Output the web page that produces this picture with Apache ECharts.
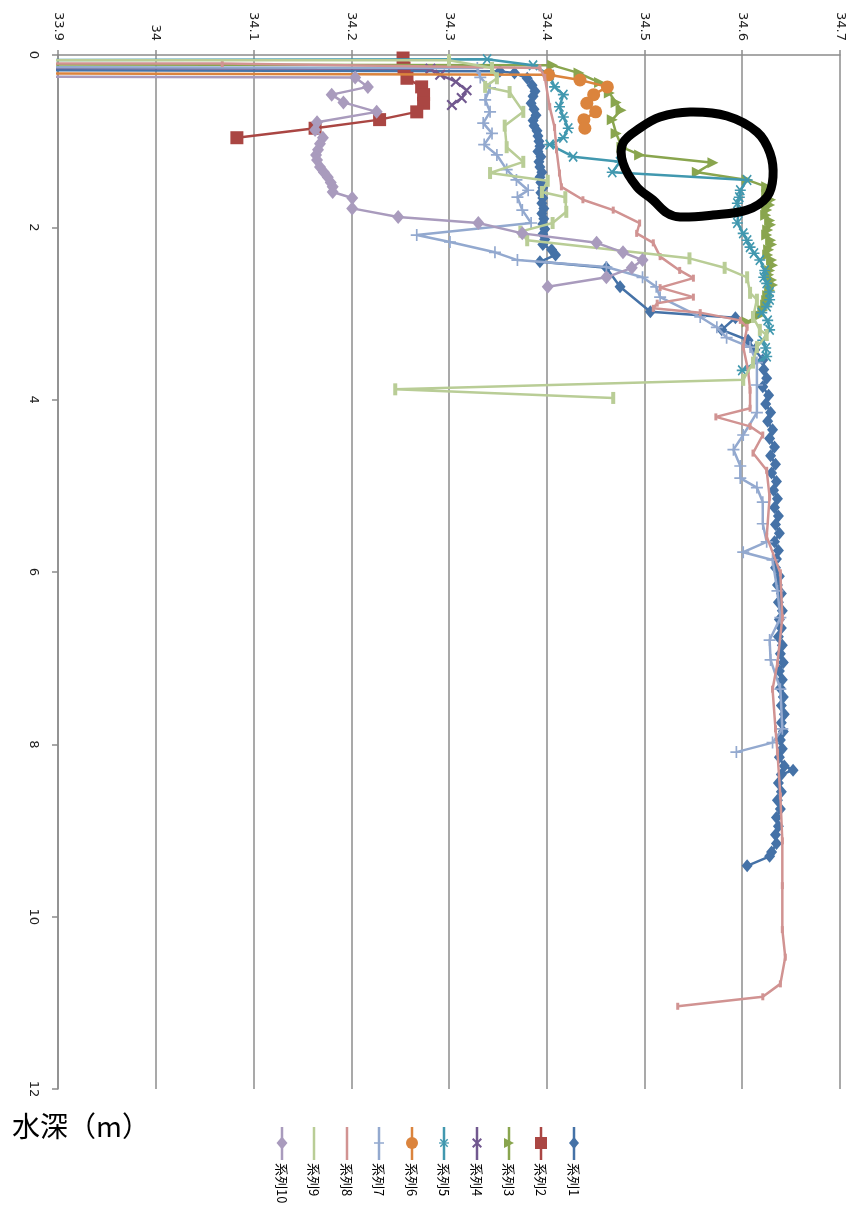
<!DOCTYPE html>
<html><head><meta charset="utf-8">
<script src="https://cdn.jsdelivr.net/npm/echarts@6/dist/echarts.min.js"></script>
<style>html,body{margin:0;padding:0;background:#fff}#c{width:852px;height:1216px}</style>
</head><body><div id="c"></div>
<script>
const salinityTicks = ['33.9','34','34.1','34.2','34.3','34.4','34.5','34.6','34.7'];
const depthTicks = ['0','2','4','6','8','10','12'];
const seriesNames = ['系列1','系列2','系列3','系列4','系列5','系列6','系列7','系列8','系列9','系列10'];
const depthTitle = '水深（m）';

// [salinity, depth]
const s1 = [[33.0,0.15],[34.352,0.19],[34.367,0.21],[34.380,0.27],[34.385,0.35],[34.388,0.42],[34.386,0.48],[34.384,0.56],[34.387,0.63],[34.389,0.70],[34.386,0.76],[34.387,0.82],[34.390,0.88],[34.391,0.94],[34.392,1.00],[34.393,1.06],[34.391,1.12],[34.394,1.18],[34.392,1.24],[34.393,1.30],[34.395,1.36],[34.393,1.42],[34.394,1.48],[34.396,1.54],[34.394,1.60],[34.396,1.66],[34.395,1.72],[34.397,1.78],[34.395,1.84],[34.397,1.90],[34.396,1.96],[34.398,2.02],[34.396,2.08],[34.398,2.14],[34.396,2.20],[34.405,2.26],[34.409,2.32],[34.393,2.40],[34.461,2.47],[34.475,2.69],[34.506,2.98],[34.593,3.05],[34.579,3.19],[34.606,3.31],[34.613,3.42],[34.621,3.54],
[34.622,3.65],[34.625,3.75],[34.621,3.85],[34.627,3.95],[34.624,4.05],[34.629,4.15],[34.626,4.25],[34.631,4.35],[34.628,4.45],[34.633,4.55],[34.629,4.65],[34.634,4.75],[34.630,4.85],[34.635,4.95],[34.632,5.05],[34.636,5.15],[34.633,5.25],[34.637,5.35],[34.634,5.45],[34.638,5.55],[34.633,5.65],[34.637,5.75],[34.635,5.85],[34.634,5.95],[34.638,6.05],[34.636,6.15],[34.640,6.25],[34.637,6.35],[34.641,6.45],[34.638,6.55],[34.640,6.65],[34.637,6.75],[34.641,6.85],[34.639,6.95],[34.642,7.05],[34.638,7.15],[34.641,7.25],[34.639,7.35],[34.642,7.45],[34.640,7.55],[34.643,7.65],[34.640,7.75],[34.642,7.85],[34.639,7.95],[34.641,8.05],[34.638,8.15],[34.643,8.25],[34.652,8.30],[34.640,8.35],[34.637,8.45],[34.640,8.55],[34.636,8.65],[34.639,8.75],[34.635,8.85],[34.637,8.95],[34.634,9.05],[34.635,9.15],[34.630,9.25],[34.628,9.30],[34.605,9.41]];
const s2 = [[34.253,0.035],[34.254,0.15],[34.257,0.27],[34.272,0.37],[34.274,0.46],[34.274,0.56],[34.267,0.66],[34.229,0.75],[34.163,0.85],[34.083,0.96]];
const s3 = [[33.0,0.09],[34.406,0.12],[34.433,0.21],[34.454,0.32],[34.464,0.44],[34.471,0.55],[34.476,0.64],[34.467,0.75],[34.471,0.91],[34.477,1.07],[34.495,1.16],[34.570,1.25],[34.554,1.36],[34.605,1.45],[34.625,1.53],[34.627,1.58],[34.625,1.62],[34.629,1.68],[34.628,1.74],[34.625,1.80],[34.624,1.86],[34.628,1.92],[34.629,1.97],[34.626,2.03],[34.625,2.09],[34.629,2.15],[34.630,2.20],[34.627,2.26],[34.626,2.32],[34.630,2.38],[34.631,2.44],[34.628,2.50],[34.627,2.55],[34.630,2.61],[34.631,2.67],[34.628,2.73],[34.626,2.79],[34.625,2.85],[34.624,2.90],[34.621,2.96],[34.618,3.02],[34.605,3.10]];
const s4 = [[33.0,0.13],[34.281,0.16],[34.291,0.23],[34.307,0.31],[34.318,0.41],[34.313,0.50],[34.303,0.58]];
const s5 = [[33.0,0.07],[34.339,0.05],[34.386,0.12],[34.403,0.23],[34.408,0.37],[34.417,0.46],[34.413,0.60],[34.417,0.72],[34.422,0.85],[34.417,0.96],[34.403,1.04],[34.427,1.18],[34.475,1.24],[34.467,1.36],[34.605,1.45],[34.598,1.57],[34.597,1.65],[34.595,1.72],[34.596,1.83],[34.595,1.95],[34.601,2.07],[34.605,2.15],[34.608,2.23],[34.612,2.30],[34.618,2.38],[34.623,2.50],[34.622,2.58],[34.625,2.65],[34.628,2.75],[34.628,2.84],[34.625,2.92],[34.620,2.99],[34.626,3.08],[34.628,3.19],[34.621,3.31],[34.624,3.40],[34.625,3.50],[34.600,3.66]];
const s6 = [[33.0,0.19],[34.402,0.23],[34.434,0.29],[34.462,0.37],[34.448,0.46],[34.441,0.56],[34.450,0.66],[34.438,0.75],[34.439,0.85]];
const s7 = [[33.0,0.13],[34.329,0.15],[34.332,0.26],[34.342,0.38],[34.337,0.52],[34.342,0.66],[34.335,0.79],[34.344,0.91],[34.336,1.04],[34.349,1.16],[34.359,1.33],[34.369,1.45],[34.381,1.57],[34.370,1.65],[34.375,1.80],[34.384,1.95],[34.267,2.09],[34.301,2.17],[34.347,2.29],[34.370,2.38],[34.461,2.46],[34.498,2.58],[34.512,2.69],[34.516,2.81],[34.557,3.04],[34.574,3.16],[34.584,3.28],[34.608,3.39],[34.615,3.57],[34.615,3.83],[34.615,4.15],[34.601,4.41],[34.591,4.58],[34.598,4.77],[34.598,4.91],[34.615,5.02],[34.621,5.19],[34.621,5.44],[34.625,5.65],[34.601,5.77],[34.631,5.86],[34.636,6.22],[34.639,6.53],[34.628,6.79],[34.629,7.02],[34.639,7.36],[34.641,7.82],[34.631,7.98],[34.594,8.09]];
const s8 = [[33.0,0.10],[34.068,0.10],[34.393,0.15],[34.398,0.26],[34.403,0.60],[34.408,0.84],[34.410,1.10],[34.413,1.37],[34.415,1.53],[34.437,1.68],[34.468,1.80],[34.495,1.95],[34.492,2.07],[34.509,2.18],[34.516,2.34],[34.536,2.50],[34.550,2.59],[34.516,2.70],[34.550,2.81],[34.513,2.88],[34.509,2.94],[34.557,2.99],[34.598,3.08],[34.605,3.16],[34.601,3.39],[34.606,3.66],[34.608,3.89],[34.608,4.10],[34.573,4.20],[34.608,4.31],[34.621,4.41],[34.611,4.62],[34.625,4.82],[34.628,5.13],[34.625,5.59],[34.639,6.01],[34.641,6.53],[34.636,7.06],[34.631,7.36],[34.634,7.82],[34.636,8.09],[34.639,8.60],[34.641,9.12],[34.641,9.64],[34.641,10.15],[34.644,10.47],[34.639,10.78],[34.621,10.93],[34.534,11.04]];
const s9 = [[33.0,0.06],[34.300,0.06],[34.344,0.15],[34.349,0.27],[34.337,0.37],[34.362,0.43],[34.376,0.66],[34.357,0.82],[34.359,1.07],[34.376,1.24],[34.342,1.37],[34.401,1.46],[34.395,1.59],[34.419,1.65],[34.420,1.82],[34.406,1.95],[34.373,2.05],[34.380,2.15],[34.546,2.36],[34.582,2.47],[34.605,2.58],[34.608,2.76],[34.615,2.84],[34.611,3.04],[34.618,3.19],[34.625,3.25],[34.615,3.39],[34.611,3.57],[34.601,3.77],[34.245,3.88],[34.468,3.98]];
const s10 = [[33.0,0.23],[34.204,0.26],[34.217,0.37],[34.180,0.46],[34.192,0.55],[34.226,0.66],[34.165,0.78],[34.163,0.87],[34.171,0.96],[34.168,1.03],[34.166,1.10],[34.164,1.16],[34.165,1.22],[34.168,1.30],[34.172,1.36],[34.176,1.42],[34.179,1.48],[34.181,1.53],[34.181,1.59],[34.201,1.66],[34.201,1.78],[34.248,1.88],[34.330,1.95],[34.375,2.07],[34.451,2.18],[34.478,2.29],[34.498,2.38],[34.487,2.47],[34.461,2.58],[34.401,2.69]];
const seriesData = [s1,s2,s3,s4,s5,s6,s7,s8,s9,s10];

const colors = ['#4572A7','#AA4643','#89A54E','#71588F','#4198AF','#DB843D','#93A9CF','#D19392','#B9CD96','#A99BBD'];
const P_X = 'M0,1.4L1.4,0L5,3.6L8.6,0L10,1.4L6.4,5L10,8.6L8.6,10L5,6.4L1.4,10L0,8.6L3.6,5Z';
const P_PLUS = 'M4.3,0H5.7V4.3H10V5.7H5.7V10H4.3V5.7H0V4.3H4.3Z';
const P_STAR = 'M0,4.4H10V5.6H0Z M0.8,1.8L1.8,0.8L9.2,8.2L8.2,9.2Z M8.2,0.8L9.2,1.8L1.8,9.2L0.8,8.2Z';

// legend marker shapes as polygons in a 10x10 box
const G_DIAMOND = [[[5,0],[10,5],[5,10],[0,5]]];
const G_RECT = [[[0,0],[10,0],[10,10],[0,10]]];
const G_TRI = [[[0,0],[10,5],[0,10]]];
const G_X = [[[0,1.4],[1.4,0],[5,3.6],[8.6,0],[10,1.4],[6.4,5],[10,8.6],[8.6,10],[5,6.4],[1.4,10],[0,8.6],[3.6,5]]];
const G_PLUS = [[[4.3,0],[5.7,0],[5.7,4.3],[10,4.3],[10,5.7],[5.7,5.7],[5.7,10],[4.3,10],[4.3,5.7],[0,5.7],[0,4.3],[4.3,4.3]]];
const G_STAR = [[[0,4.4],[10,4.4],[10,5.6],[0,5.6]],[[0.8,1.8],[1.8,0.8],[9.2,8.2],[8.2,9.2]],[[8.2,0.8],[9.2,1.8],[1.8,9.2],[0.8,8.2]]];

const symbols = [
  {symbol:'diamond', size:[11,13], rot:0, g:G_DIAMOND, ls:[10,12]},
  {symbol:'rect', size:13, rot:0, g:G_RECT, ls:[12,12]},
  {symbol:'triangle', size:[11,11], rot:-90, g:G_TRI, ls:[10,10]},
  {symbol:'path://'+P_X, size:11, rot:0, g:G_X, ls:[10,10]},
  {symbol:'path://'+P_STAR, size:11, rot:0, g:G_STAR, ls:[10,10]},
  {symbol:'circle', size:13, rot:0, g:null, ls:[12,12]},
  {symbol:'path://'+P_PLUS, size:12, rot:0, g:G_PLUS, ls:[10,10]},
  {symbol:'rect', size:[3,7], rot:0, g:null, ls:null},
  {symbol:'rect', size:[4,12], rot:0, g:null, ls:null},
  {symbol:'diamond', size:[12,14], rot:0, g:G_DIAMOND, ls:[11,13]}
];

const chart = echarts.init(document.getElementById('c'), null, {renderer:'canvas'});

const series = seriesData.map((d,i)=>({
  name: seriesNames[i], type:'line', data:d, clip:true,
  symbol: symbols[i].symbol, symbolSize: symbols[i].size, symbolRotate: symbols[i].rot,
  showAllSymbol:true,
  itemStyle:{color:colors[i]},
  lineStyle:{color:colors[i], width:2.5},
  emphasis:{disabled:true},
  z: 2 + i
}));

// legend drawn vertically (rotated text)
const legendX = [574,541,509,477,444,412,379,347,314,282];
const graphics = [];
seriesNames.forEach((n,i)=>{
  const x = legendX[i];
  graphics.push({type:'line', shape:{x1:x,y1:1127,x2:x,y2:1160}, style:{stroke:colors[i], lineWidth:2.5}});
  const s = symbols[i];
  if (s.symbol==='circle') {
    graphics.push({type:'circle', shape:{cx:x, cy:1143, r:6}, style:{fill:colors[i]}});
  } else if (s.g) {
    const w = s.ls[0], h = s.ls[1];
    s.g.forEach(poly=>{
      graphics.push({type:'polygon', shape:{points: poly.map(p=>[x - w/2 + p[0]*w/10, 1143 - h/2 + p[1]*h/10])}, style:{fill:colors[i]}});
    });
  }
  graphics.push({type:'text', x:x, y:1163, rotation:-Math.PI/2,
    style:{text:n, x:0, y:0, align:'left', verticalAlign:'middle', fill:'#000', font:'13px "Noto Sans CJK JP", sans-serif'}});
});
graphics.push({type:'text', left:12, top:1112, style:{text:depthTitle, fill:'#000', font:'28px "Noto Sans CJK JP", sans-serif'}});
// hand-drawn annotation loop
graphics.push({type:'polygon', z:100, shape:{smooth:0.35, points:[[623,143],[640,128],[660,117],[690,112],[727,116],[757,132],[770,153],[773,177],[767,197],[747,210],[713,215],[680,217],[667,213],[653,200],[637,187],[623,163]]},
  style:{fill:'none', stroke:'#000', lineWidth:9}});

chart.setOption({
  animation:false,
  backgroundColor:'#fff',
  grid:{left:58, top:55, right:12, bottom:127, containLabel:false},
  xAxis:{type:'value', position:'top', min:33.9, max:34.7, interval:0.1,
    axisLine:{show:true, lineStyle:{color:'#8c8c8c', width:1.5}},
    axisTick:{show:true, inside:false, length:5, lineStyle:{color:'#8c8c8c', width:1.5}},
    axisLabel:{rotate:-90, margin:14, color:'#222', fontSize:13, fontFamily:'"DejaVu Sans", sans-serif',
      formatter:(v)=>salinityTicks[Math.round((v-33.9)*10)]},
    splitLine:{show:true, lineStyle:{color:'#8c8c8c', width:1.5}}},
  yAxis:{type:'value', inverse:true, min:0, max:12, interval:2,
    axisLine:{show:true, lineStyle:{color:'#8c8c8c', width:1.5}},
    axisTick:{show:true, inside:false, length:6, lineStyle:{color:'#8c8c8c', width:1.5}},
    axisLabel:{rotate:-90, margin:18, color:'#222', fontSize:13, fontFamily:'"DejaVu Sans", sans-serif',
      formatter:(v)=>depthTicks[Math.round(v/2)]},
    splitLine:{show:false}},
  series: series,
  graphic: graphics
});
</script></body></html>
